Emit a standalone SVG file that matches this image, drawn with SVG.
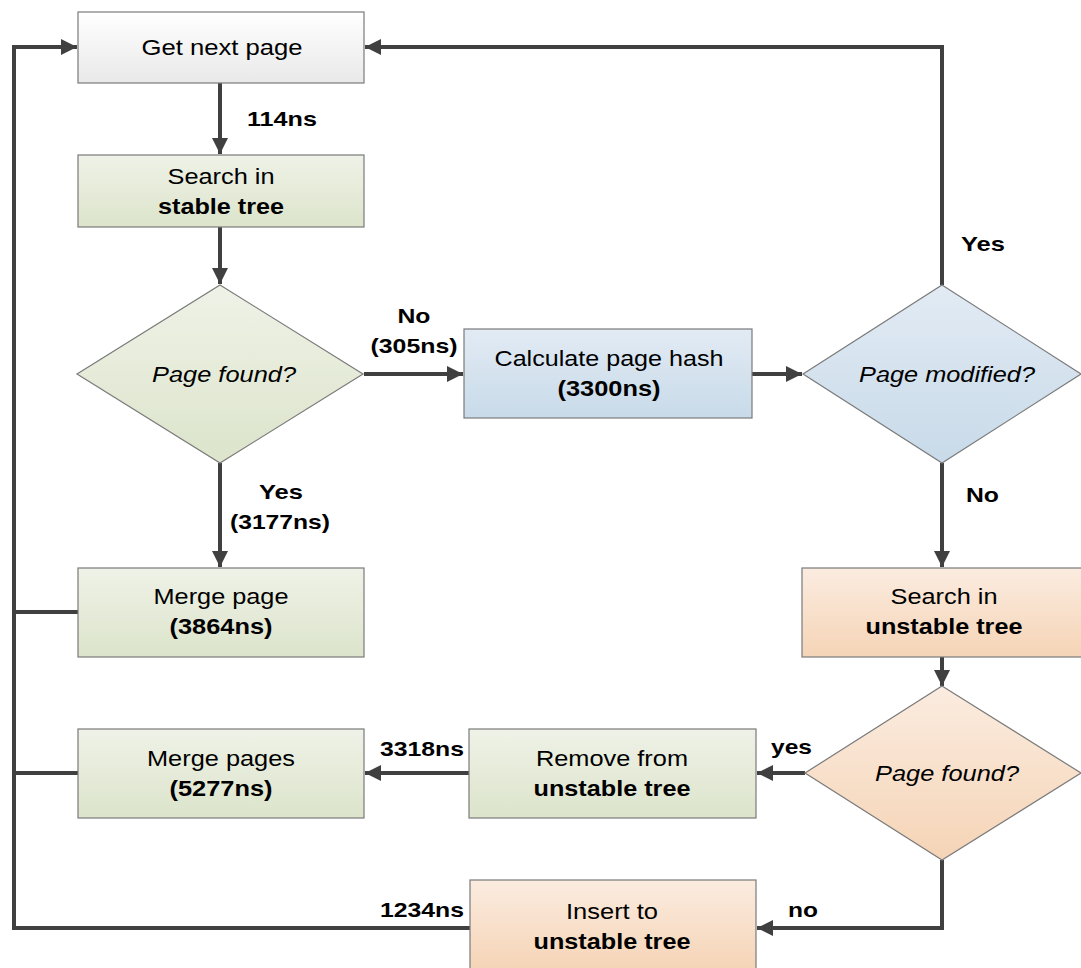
<svg xmlns="http://www.w3.org/2000/svg" width="1081" height="968" viewBox="0 0 1081 968">
  <defs>
    <linearGradient id="gGray" x1="0" y1="0" x2="0" y2="1">
      <stop offset="0" stop-color="#ffffff"/>
      <stop offset="1" stop-color="#e9e9e9"/>
    </linearGradient>
    <linearGradient id="gGreen" x1="0" y1="0" x2="0" y2="1">
      <stop offset="0" stop-color="#eff2e7"/>
      <stop offset="1" stop-color="#dce4cb"/>
    </linearGradient>
    <linearGradient id="gBlue" x1="0" y1="0" x2="0" y2="1">
      <stop offset="0" stop-color="#e2ebf4"/>
      <stop offset="1" stop-color="#c8dae9"/>
    </linearGradient>
    <linearGradient id="gOrange" x1="0" y1="0" x2="0" y2="1">
      <stop offset="0" stop-color="#fbece0"/>
      <stop offset="1" stop-color="#f5d4b6"/>
    </linearGradient>
    <marker id="arrow" viewBox="0 0 10 10" refX="10" refY="5" markerWidth="4" markerHeight="4" markerUnits="strokeWidth" orient="auto">
      <path d="M0,0 L10,5 L0,10 z" fill="#404040"/>
    </marker>
  </defs>
  <style>
    .box { stroke: #7a7a7a; stroke-width: 1.2; }
    .t { font-family: "Liberation Sans", Arial, sans-serif; font-size: 22px; fill: #000; text-anchor: middle; }
    .b { font-weight: bold; }
    .i { font-style: italic; }
    .lbl { font-family: "Liberation Sans", Arial, sans-serif; font-size: 21px; font-weight: bold; fill: #000; }
    .m { text-anchor: middle; }
    .c { fill: none; stroke: #404040; stroke-width: 4; }
    .ca { fill: none; stroke: #404040; stroke-width: 4; marker-end: url(#arrow); }
  </style>

  <!-- connectors -->
  <g id="connectors">
    <path class="ca" d="M220,83 V154"/>
    <path class="ca" d="M220,227 V284"/>
    <path class="ca" d="M364,374 H463"/>
    <path class="ca" d="M752,374 H802"/>
    <path class="ca" d="M942,285 V47 H365"/>
    <path class="ca" d="M220,463 V567"/>
    <path class="ca" d="M942,463 V567"/>
    <path class="ca" d="M942,657 V686"/>
    <path class="ca" d="M805,773 H757"/>
    <path class="ca" d="M469,773 H365"/>
    <path class="ca" d="M942,860 V928 H757"/>
    <path class="ca" d="M470,928 H14 V47 H77"/>
    <path class="c" d="M78,612 H14"/>
    <path class="c" d="M78,773 H14"/>
  </g>

  <!-- connector labels -->
  <g id="labels">
    <text class="lbl" x="247" y="126" textLength="70" lengthAdjust="spacingAndGlyphs">114ns</text>
    <text class="lbl m" x="414" y="323" textLength="33" lengthAdjust="spacingAndGlyphs">No</text>
    <text class="lbl m" x="414" y="353" textLength="87" lengthAdjust="spacingAndGlyphs">(305ns)</text>
    <text class="lbl m" x="281" y="499" textLength="44" lengthAdjust="spacingAndGlyphs">Yes</text>
    <text class="lbl m" x="280" y="529" textLength="100" lengthAdjust="spacingAndGlyphs">(3177ns)</text>
    <text class="lbl" x="961" y="251" textLength="44" lengthAdjust="spacingAndGlyphs">Yes</text>
    <text class="lbl" x="966" y="502" textLength="33" lengthAdjust="spacingAndGlyphs">No</text>
    <text class="lbl" x="771" y="754" textLength="41" lengthAdjust="spacingAndGlyphs">yes</text>
    <text class="lbl" x="380" y="756" textLength="84" lengthAdjust="spacingAndGlyphs">3318ns</text>
    <text class="lbl" x="788" y="917" textLength="30" lengthAdjust="spacingAndGlyphs">no</text>
    <text class="lbl" x="380" y="917" textLength="84" lengthAdjust="spacingAndGlyphs">1234ns</text>
  </g>

  <g id="get-next-page">
    <rect class="box" x="78" y="12" width="286" height="71" fill="url(#gGray)"/>
    <text class="t" x="222" y="55" textLength="161" lengthAdjust="spacingAndGlyphs">Get next page</text>
  </g>

  <g id="search-stable">
    <rect class="box" x="78" y="155" width="286" height="72" fill="url(#gGreen)"/>
    <text class="t" x="221" y="184" textLength="107" lengthAdjust="spacingAndGlyphs">Search in</text>
    <text class="t b" x="221" y="214" textLength="126" lengthAdjust="spacingAndGlyphs">stable tree</text>
  </g>

  <g id="page-found-stable">
    <polygon class="box" points="220,285 363,374 220,463 77,374" fill="url(#gGreen)"/>
    <text class="t i" x="224" y="382" textLength="144" lengthAdjust="spacingAndGlyphs">Page found?</text>
  </g>

  <g id="calc-hash">
    <rect class="box" x="464" y="329" width="288" height="89" fill="url(#gBlue)"/>
    <text class="t" x="609" y="366" textLength="229" lengthAdjust="spacingAndGlyphs">Calculate page hash</text>
    <text class="t b" x="609" y="396" textLength="103" lengthAdjust="spacingAndGlyphs">(3300ns)</text>
  </g>

  <g id="page-modified">
    <polygon class="box" points="942,285 1081,374 942,463 803,374" fill="url(#gBlue)"/>
    <text class="t i" x="947" y="382" textLength="176" lengthAdjust="spacingAndGlyphs">Page modified?</text>
  </g>

  <g id="merge-page">
    <rect class="box" x="78" y="568" width="286" height="89" fill="url(#gGreen)"/>
    <text class="t" x="221" y="604" textLength="135" lengthAdjust="spacingAndGlyphs">Merge page</text>
    <text class="t b" x="221" y="634" textLength="103" lengthAdjust="spacingAndGlyphs">(3864ns)</text>
  </g>

  <g id="search-unstable">
    <rect class="box" x="802" y="568" width="280" height="89" fill="url(#gOrange)"/>
    <text class="t" x="944" y="604" textLength="107" lengthAdjust="spacingAndGlyphs">Search in</text>
    <text class="t b" x="944" y="634" textLength="157" lengthAdjust="spacingAndGlyphs">unstable tree</text>
  </g>

  <g id="page-found-unstable">
    <polygon class="box" points="942,686 1081,773 942,860 805,773" fill="url(#gOrange)"/>
    <text class="t i" x="947" y="781" textLength="144" lengthAdjust="spacingAndGlyphs">Page found?</text>
  </g>

  <g id="remove-unstable">
    <rect class="box" x="469" y="729" width="287" height="89" fill="url(#gGreen)"/>
    <text class="t" x="612" y="766" textLength="152" lengthAdjust="spacingAndGlyphs">Remove from</text>
    <text class="t b" x="612" y="796" textLength="157" lengthAdjust="spacingAndGlyphs">unstable tree</text>
  </g>

  <g id="merge-pages">
    <rect class="box" x="78" y="729" width="286" height="89" fill="url(#gGreen)"/>
    <text class="t" x="221" y="766" textLength="148" lengthAdjust="spacingAndGlyphs">Merge pages</text>
    <text class="t b" x="221" y="796" textLength="103" lengthAdjust="spacingAndGlyphs">(5277ns)</text>
  </g>

  <g id="insert-unstable">
    <rect class="box" x="470" y="880" width="286" height="90" fill="url(#gOrange)"/>
    <text class="t" x="612" y="919" textLength="92" lengthAdjust="spacingAndGlyphs">Insert to</text>
    <text class="t b" x="612" y="949" textLength="157" lengthAdjust="spacingAndGlyphs">unstable tree</text>
  </g>
</svg>
